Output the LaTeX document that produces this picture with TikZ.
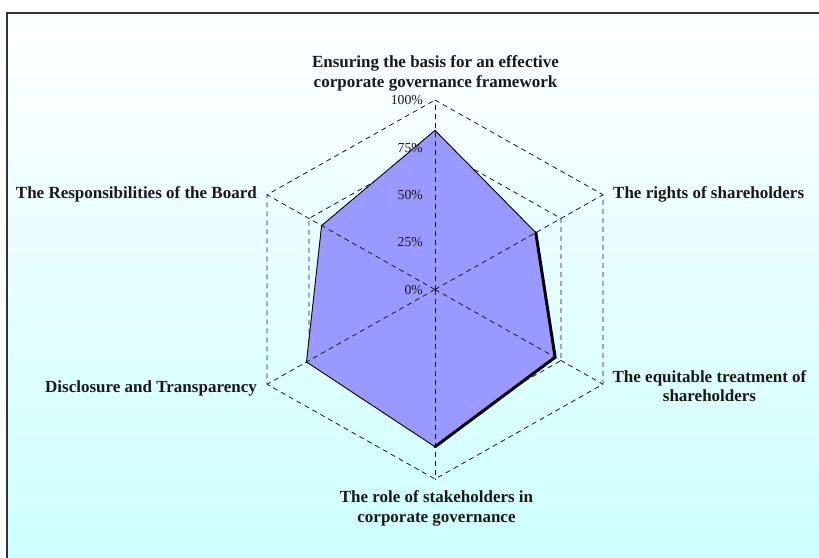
\documentclass[tikz,border=0pt]{standalone}
\usepackage{fontspec}
\setmainfont{Liberation Serif}
\usetikzlibrary{calc}
\definecolor{bgtop}{RGB}{255,255,255}
\definecolor{bgbottom}{RGB}{204,255,255}
\definecolor{areafill}{RGB}{153,153,255}
\begin{document}
\begin{tikzpicture}[x=1pt,y=-1pt,
  gridline/.style={draw=black!90,line width=0.8pt,dash pattern=on 5pt off 4pt},
  axislabel/.style={font=\fontsize{17pt}{19.5pt}\selectfont\bfseries,inner sep=0pt,text=black!90},
  pctlabel/.style={font=\fontsize{13.7pt}{15pt}\selectfont,inner sep=0pt,anchor=east,text=black!90},
  series/.style={draw=black,line width=0.9pt,line join=miter}]
\useasboundingbox (0,0) rectangle (819,557);

% framed chart area with a soft vertical gradient
\shade[top color=bgtop,bottom color=bgbottom] (7,13) rectangle (840,575);
\draw[black!80,line width=1.2pt] (7,575) -- (7,13) -- (840,13);

% centre and the six axis ends (100%)
\coordinate (C) at (435,289.5);
\coordinate (A1) at ($(C)+(0,-189.5)$);
\coordinate (A2) at ($(C)+(168,-94.75)$);
\coordinate (A3) at ($(C)+(168,94.75)$);
\coordinate (A4) at ($(C)+(0,189.5)$);
\coordinate (A5) at ($(C)+(-168,94.75)$);
\coordinate (A6) at ($(C)+(-168,-94.75)$);

% data points
\coordinate (D1) at ($(C)!0.84!(A1)$);
\coordinate (D2) at ($(C)!0.60!(A2)$);
\coordinate (D3) at ($(C)!0.715!(A3)$);
\coordinate (D4) at ($(C)!0.83!(A4)$);
\coordinate (D5) at ($(C)!0.765!(A5)$);
\coordinate (D6) at ($(C)!0.675!(A6)$);

% dashed rings at 25, 50, 75, 100 %
\foreach \f in {0.25,0.5,0.75,1}{
  \draw[gridline] ($(C)!\f!(A1)$) -- ($(C)!\f!(A2)$) -- ($(C)!\f!(A3)$) --
    ($(C)!\f!(A4)$) -- ($(C)!\f!(A5)$) -- ($(C)!\f!(A6)$) -- cycle;
}

% filled area
\fill[areafill] (D1) -- (D2) -- (D3) -- (D4) -- (D5) -- (D6) -- cycle;

% dashed spokes on top of the area
\foreach \i in {1,...,6}{
  \draw[gridline] (C) -- (A\i);
}

% series outline, heavier on the shaded side
\draw[series] (D1) -- (D2) -- (D3) -- (D4) -- (D5) -- (D6) -- cycle;
\draw[black,line width=3pt,line cap=round,line join=round] (D2) -- (D3) -- (D4);

% scale labels
\node[pctlabel] (p100) at (423,100) {100\%};
\node[pctlabel] (p75) at (423,147.6) {75\%};
\node[pctlabel] (p50) at (423,195) {50\%};
\node[pctlabel] (p25) at (423,242.4) {25\%};
\node[pctlabel] (p0) at (423,290.5) {0\%};

% category labels
\node[axislabel,align=center,anchor=north] (l1) at (435.5,55.4)
  {Ensuring the basis for an effective\\corporate governance framework};
\node[axislabel,anchor=base west] (l2) at (613,198) {The rights of shareholders};
\node[axislabel,align=center,anchor=north] (l3) at (709.5,370.2)
  {The equitable treatment of\\shareholders};
\node[axislabel,align=center,anchor=north] (l4) at (436.5,490.5)
  {The role of stakeholders in\\corporate governance};
\node[axislabel,anchor=base east] (l5) at (257,392) {Disclosure and Transparency};
\node[axislabel,anchor=base east] (l6) at (257,198) {The Responsibilities of the Board};
\end{tikzpicture}
\end{document}
